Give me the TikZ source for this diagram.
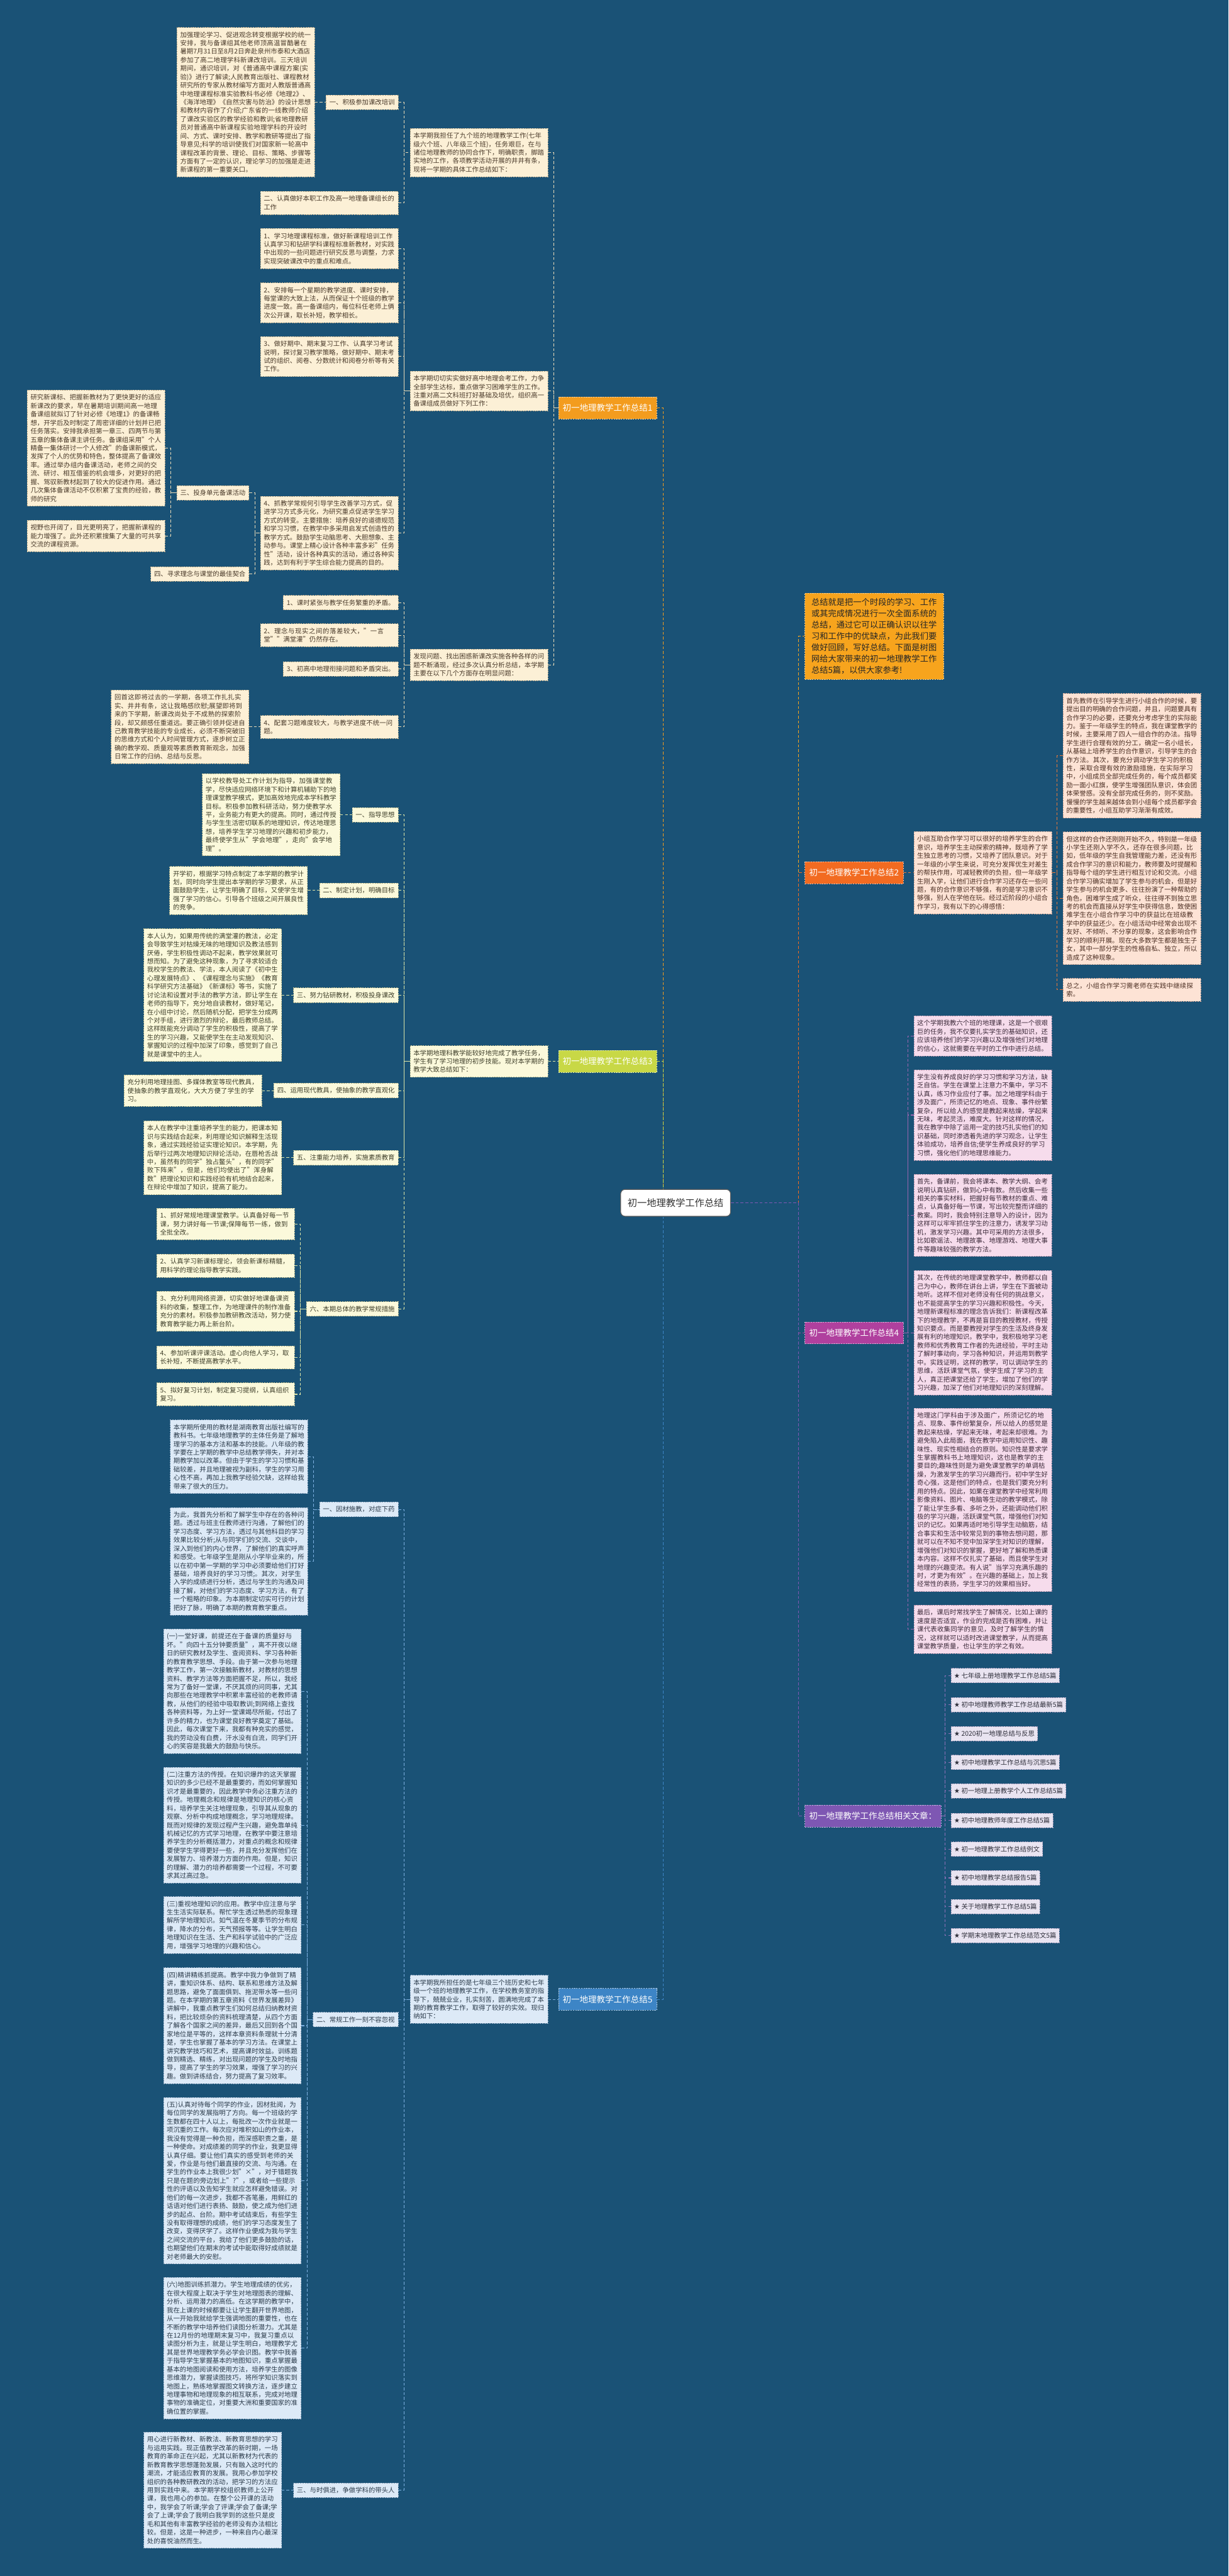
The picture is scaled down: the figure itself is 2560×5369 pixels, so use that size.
\documentclass[tikz,border=0pt]{standalone}
\usepackage{fontspec}
\setmainfont{Noto Sans CJK SC}
\newfontfamily\djv{DejaVu Sans}
\XeTeXlinebreaklocale "zh"
\XeTeXlinebreakskip = 0pt plus 1pt
\definecolor{bg}{HTML}{1A5276}
\definecolor{fA}{HTML}{FCF0D6}\definecolor{tA}{HTML}{4A3A2A}\definecolor{dA}{HTML}{B8A888}\definecolor{lA}{HTML}{EADBB8}
\definecolor{fB}{HTML}{FDE3D5}\definecolor{tB}{HTML}{4B2E22}\definecolor{dB}{HTML}{C9A090}\definecolor{lB}{HTML}{E8783A}
\definecolor{fC}{HTML}{FBF9DB}\definecolor{tC}{HTML}{3F3F2A}\definecolor{dC}{HTML}{B5B58A}\definecolor{lC}{HTML}{DDE6A8}
\definecolor{fD}{HTML}{F6DCEC}\definecolor{tD}{HTML}{3D2A3A}\definecolor{dD}{HTML}{B090A8}\definecolor{lD}{HTML}{9A64B0}
\definecolor{fE}{HTML}{DDEAF7}\definecolor{tE}{HTML}{2A3A4A}\definecolor{dE}{HTML}{90A8C0}\definecolor{lE}{HTML}{7DB0E0}
\definecolor{fF}{HTML}{E9E4F1}\definecolor{tF}{HTML}{2E2E3A}\definecolor{dF}{HTML}{A098B8}\definecolor{lF}{HTML}{8E70B8}
\definecolor{labA}{HTML}{F39C1E}\definecolor{labB}{HTML}{F26B21}\definecolor{labC}{HTML}{C8D846}
\definecolor{labD}{HTML}{B0409E}\definecolor{labE}{HTML}{3D85C6}\definecolor{labF}{HTML}{7E57B3}
\definecolor{intro}{HTML}{F7A41D}
\tikzset{
  base/.style={rectangle, inner xsep=7pt, inner ysep=8.8pt, font=\fontsize{13.6}{17.6}\selectfont, align=left, dash pattern=on 3pt off 2pt, line width=0.8pt},
  wide/.style={text width=273pt},
  bxA/.style={base, fill=fA, text=tA, draw=dA},
  bxB/.style={base, fill=fB, text=tB, draw=dB},
  bxC/.style={base, fill=fC, text=tC, draw=dC},
  bxD/.style={base, fill=fD, text=tD, draw=dD},
  bxE/.style={base, fill=fE, text=tE, draw=dE},
  bxF/.style={base, fill=fF, text=tF, draw=dF, inner xsep=6pt},
  lab/.style={rectangle, inner xsep=9pt, inner ysep=14.5pt, font=\fontsize{17.7}{20}\selectfont, text=white, fill=#1, draw=white!55!#1, dash pattern=on 3pt off 2pt, line width=0.8pt},
  cn/.style={draw=#1, dash pattern=on 6pt off 4pt, line width=1.4pt},
}
\begin{document}
\begin{tikzpicture}[x=1pt,y=-1pt]
\fill[bg] (0,0) rectangle (2560,5369);
\useasboundingbox (0,0) rectangle (2560,5369);

% root
\node[rectangle, rounded corners=9pt, fill=white, draw=black!65, line width=1.5pt, minimum width=229pt, minimum height=56pt, font=\fontsize{20}{22}\selectfont, text=black!80] (root) at (1408,2507) {初一地理教学工作总结};

% ================= Branch 1 =================
\node[lab=labA, anchor=east] (L1) at (1369,850) {初一地理教学工作总结1};
\node[bxA, wide, anchor=east] (A1) at (1142,318) {本学期我担任了九个班的地理教学工作(七年级六个班、八年级三个班)，任务艰巨，在与诸位地理教师的协同合作下，明确职责，脚踏实地的工作，各项教学活动开展的井井有条，现将一学期的具体工作总结如下：};
\node[bxA, anchor=east] (A11) at (830,213) {一、积极参加课改培训};
\node[bxA, wide, anchor=east] (A111) at (656,213) {加强理论学习、促进观念转变根据学校的统一安排，我与备课组其他老师顶高温冒酷暑在暑期7月31日至8月2日奔赴泉州市泰和大酒店参加了高二地理学科新课改培训。三天培训期间，通识培训，对《普通高中课程方案(实验)》进行了解读;人民教育出版社、课程教材研究所的专家从教材编写方面对人教版普通高中地理课程标准实验教科书必修《地理2》、《海洋地理》《自然灾害与防治》的设计思想和教材内容作了介绍;广东省的一线教师介绍了课改实验区的教学经验和教训;省地理教研员对普通高中新课程实验地理学科的开设时间、方式、课时安排、教学和教研等提出了指导意见;科学的培训使我们对国家新一轮高中课程改革的背景、理论、目标、策略、步骤等方面有了一定的认识，理论学习的加强是走进新课程的第一重要关口。};
\node[bxA, wide, anchor=east] (A12) at (830,423) {二、认真做好本职工作及高一地理备课组长的工作};

\node[bxA, wide, anchor=east] (A2) at (1142,815) {本学期切切实实做好高中地理会考工作，力争全部学生达标，重点做学习困难学生的工作。注重对高二文科班打好基础及培优，组织高一备课组成员做好下列工作：};
\node[bxA, wide, anchor=east] (A21) at (830,518) {1、学习地理课程标准，做好新课程培训工作认真学习和钻研学科课程标准新教材，对实践中出现的一些问题进行研究反思与调整，力求实现突破课改中的重点和难点。};
\node[bxA, wide, anchor=east] (A22) at (830,631) {2、安排每一个星期的教学进度、课时安排，每堂课的大致上法，从而保证十个班级的教学进度一致。高一备课组内，每位科任老师上俩次公开课，取长补短，教学相长。};
\node[bxA, wide, anchor=east] (A23) at (830,743) {3、做好期中、期末复习工作、认真学习考试说明，探讨复习教学策略，做好期中、期末考试的组织、阅卷、分数统计和阅卷分析等有关工作。};
\node[bxA, wide, anchor=east] (A24) at (830,1111) {4、抓教学常规何引导学生改善学习方式，促进学习方式多元化，为研究重点促进学生学习方式的转变。主要措施：培养良好的道德规范和学习习惯，在教学中多采用启发式创造性的教学方式。鼓励学生动脑思考、大胆想象、主动参与。课堂上精心设计各种丰富多彩"任务性"活动，设计各种真实的活动，通过各种实践，达到有利于学生综合能力提高的目的。};
\node[bxA, anchor=east] (A241) at (519,1027) {三、投身单元备课活动};
\node[bxA, wide, anchor=east] (A2411) at (344,934) {研究新课标、把握新教材为了更快更好的适应新课改的要求，早在暑期培训期间高一地理备课组就拟订了针对必修《地理1》的备课畅想，开学后及时制定了周密详细的计划并已把任务落实。安排我承担第一章三、四两节与第五章的集体备课主讲任务。备课组采用"个人精备一集体研讨一个人修改"的备课新模式，发挥了个人的优势和特色，整体提高了备课效率。通过举办组内备课活动，老师之间的交流、研讨、相互借鉴的机会增多，对更好的把握、驾驭新教材起到了较大的促进作用。通过几次集体备课活动不仅积累了宝贵的经验，教师的研究};
\node[bxA, wide, anchor=east] (A2412) at (344,1117) {视野也开阔了，目光更明亮了，把握新课程的能力增强了。此外还积累搜集了大量的可共享交流的课程资源。};
\node[bxA, anchor=east] (A242) at (519,1196) {四、寻求理念与课堂的最佳契合};

\node[bxA, wide, anchor=east] (A3) at (1142,1386) {发现问题、找出困惑新课改实施各种各样的问题不断涌现，经过多次认真分析总结，本学期主要在以下几个方面存在明显问题：};
\node[bxA, anchor=east] (A31) at (830,1256) {1、课时紧张与教学任务繁重的矛盾。};
\node[bxA, wide, anchor=east] (A32) at (830,1324) {2、理念与现实之间的落差较大，"一言堂""满堂灌"仍然存在。};
\node[bxA, anchor=east] (A33) at (830,1394) {3、初高中地理衔接问题和矛盾突出。};
\node[bxA, wide, anchor=east] (A34) at (830,1515) {4、配套习题难度较大，与教学进度不统一问题。};
\node[bxA, wide, anchor=east] (A341) at (519,1515) {回首这即将过去的一学期，各项工作扎扎实实、井井有条，这让我略感欣慰;展望即将到来的下学期，新课改尚处于不成熟的探索阶段，却又颇感任重道远。要正确引领并促进自己教育教学技能的专业成长，必须不断突破旧的思维方式和个人时间管理方式，逐步树立正确的教学观、质量观等素质教育新观念，加强日常工作的归纳、总结与反思。};

% ================= Branch 3 =================
\node[lab=labC, anchor=east] (L3) at (1369,2212) {初一地理教学工作总结3};
\node[bxC, wide, anchor=east] (C0) at (1142,2212) {本学期地理科教学能较好地完成了教学任务，学生有了学习地理的初步技能。现对本学期的教学大致总结如下：};
\node[bxC, anchor=east] (C1) at (830,1698) {一、指导思想};
\node[bxC, wide, anchor=east] (C11) at (709,1698) {以学校教导处工作计划为指导，加强课堂教学，尽快适应网络环境下和计算机辅助下的地理课堂教学模式，更加高效地完成本学科教学目标。积极参加教科研活动，努力使教学水平，业务能力有更大的提高。同时，通过传授与学生生活密切联系的地理知识，传达地理思想，培养学生学习地理的兴趣和初步能力，最终使学生从"学会地理"，走向"会学地理"。};
\node[bxC, anchor=east] (C2) at (830,1856) {二、制定计划，明确目标};
\node[bxC, wide, anchor=east] (C21) at (641,1856) {开学初，根据学习特点制定了本学期的教学计划，同时向学生提出本学期的学习要求，从正面鼓励学生，让学生明确了目标，又使学生增强了学习的信心。引导各个班级之间开展良性的竞争。};
\node[bxC, anchor=east] (C3) at (830,2074) {三、努力钻研教材，积极投身课改};
\node[bxC, wide, anchor=east] (C31) at (587,2074) {本人认为，如果用传统的满堂灌的教法，必定会导致学生对枯燥无味的地理知识及教法感到厌倦，学生积极性调动不起来，教学效果就可想而知。为了避免这种现象，为了寻求较适合我校学生的教法、学法，本人阅读了《初中生心理发展特点》、《课程理念与实施》《教育科学研究方法基础》《新课标》等书，实施了讨论法和设置对手法的教学方法，即让学生在老师的指导下，充分地自读教材，做好笔记，在小组中讨论，然后随机分配，把学生分成两个对手组，进行激烈的辩论，最后教师总结。这样既能充分调动了学生的积极性，提高了学生的学习兴趣，又能使学生在主动发现知识、掌握知识的过程中加深了印象，感觉到了自己就是课堂中的主人。};
\node[bxC, anchor=east] (C4) at (830,2273) {四、运用现代教具，使抽象的教学直观化};
\node[bxC, wide, anchor=east] (C41) at (546,2273) {充分利用地理挂图、多媒体教室等现代教具，使抽象的教学直观化，大大方便了学生的学习。};
\node[bxC, anchor=east] (C5) at (830,2413) {五、注重能力培养，实施素质教育};
\node[bxC, wide, anchor=east] (C51) at (587,2413) {本人在教学中注重培养学生的能力，把课本知识与实践结合起来，利用理论知识解释生活现象，通过实践经验证实理论知识。本学期，先后举行过两次地理知识辩论活动，在唇枪舌战中，虽然有的同学"独占鳌头"，有的同学"败下阵来"，但是，他们均使出了"浑身解数"把理论知识和实践经验有机地结合起来，在辩论中增加了知识，提高了能力。};
\node[bxC, anchor=east] (C6) at (830,2728) {六、本期总体的教学常规措施};
\node[bxC, wide, anchor=east] (C61) at (614,2551) {1、抓好常规地理课堂教学。认真备好每一节课，努力讲好每一节课;保障每节一练，做到全批全改。};
\node[bxC, wide, anchor=east] (C62) at (614,2638) {2、认真学习新课标理论，领会新课标精髓，用科学的理论指导教学实践。};
\node[bxC, wide, anchor=east] (C63) at (614,2733) {3、充分利用网络资源，切实做好地课备课资料的收集，整理工作，为地理课件的制作准备充分的素材。积极参加教研教改活动，努力使教育教学能力再上新台阶。};
\node[bxC, wide, anchor=east] (C64) at (614,2829) {4、参加听课评课活动。虚心向他人学习，取长补短，不断提高教学水平。};
\node[bxC, wide, anchor=east] (C65) at (614,2906) {5、拟好复习计划，制定复习提纲，认真组织复习。};

% ================= Branch 5 =================
\node[lab=labE, anchor=east] (L5) at (1369,4167) {初一地理教学工作总结5};
\node[bxE, wide, anchor=east] (E0) at (1142,4167) {本学期我所担任的是七年级三个班历史和七年级一个班的地理教学工作，在学校教务室的指导下，兢兢业业，扎实刻苦，圆满地完成了本期的教育教学工作，取得了较好的实效。现归纳如下：};
\node[bxE, anchor=east] (E1) at (830,3146) {一、因材施教，对症下药};
\node[bxE, wide, anchor=east] (E11) at (642,3036) {本学期所使用的教材是湖南教育出版社编写的教科书。七年级地理教学的主体任务是了解地理学习的基本方法和基本的技能。八年级的教学要在上学期的教学中总结教学得失，并对本期教学加以改革。但由于学生的学习习惯和基础较差，并且地理被视为副科，学生的学习用心性不高，再加上我教学经验欠缺，这样给我带来了很大的压力。};
\node[bxE, wide, anchor=east] (E12) at (642,3254) {为此，我首先分析和了解学生中存在的各种问题。透过与班主任教师进行沟通，了解他们的学习态度、学习方法，透过与其他科目的学习效果比较分析;从与同学们的交流、交谈中，深入到他们的内心世界，了解他们的真实呼声和感受。七年级学生是刚从小学毕业来的，所以在初中第一学期的学习中必须要给他们打好基础，培养良好的学习习惯;。其次，对学生入学的成绩进行分析，透过与学生的沟通及间接了解，对他们的学习态度、学习方法，有了一个粗略的印象。为本期制定切实可行的计划把好了脉，明确了本期的教育教学重点。};
\node[bxE, anchor=east] (E2) at (830,4209) {二、常规工作一刻不容忽视};
\node[bxE, wide, anchor=east] (E21) at (628,3525) {(一)一堂好课，前提还在于备课的质量好与坏。"向四十五分钟要质量"，离不开夜以继日的研究教材及学生、查阅资料、学习各种新的教育教学思想、手段。由于第一次参与地理教学工作，第一次接触新教材，对教材的思想资料、教学方法等方面把握不足，所以，我经常为了备好一堂课，不厌其烦的问同事，尤其向那些在地理教学中积累丰富经验的老教师请教，从他们的经验中吸取教训;到网络上查找各种资料等，为上好一堂课竭尽所能，付出了许多的精力，也为课堂良好教学奠定了基础。因此，每次课堂下来，我都有种充实的感觉，我的劳动没有白费，汗水没有白流，同学们开心的笑容是我最大的鼓励与快乐。};
\node[bxE, wide, anchor=east] (E22) at (628,3804) {(二)注重方法的传授。在知识爆炸的这天掌握知识的多少已经不是最重要的，而如何掌握知识才是最重要的，因此教学中务必注重方法的传授。地理概念和规律是地理知识的核心资料，培养学生关注地理现象，引导其从现象的观察、分析中构成地理概念，学习地理规律。既而对规律的发现过程产生兴趣，避免靠单纯机械记忆的方式学习地理，在教学中要注意培养学生的分析概括潜力，对重点的概念和规律要使学生学得更好一些，并且充分发挥他们在发展智力、培养潜力方面的作用。但是，知识的理解、潜力的培养都需要一个过程，不可要求其过高过急。};
\node[bxE, wide, anchor=east] (E23) at (628,4012) {(三)重视地理知识的应用。教学中应注意与学生生活实际联系。帮忙学生透过熟悉的现象理解所学地理知识。如气温在冬夏季节的分布规律，降水的分布，天气预报等等。让学生明白地理知识在生活、生产和科学试验中的广泛应用，增强学习地理的兴趣和信心。};
\node[bxE, wide, anchor=east] (E24) at (628,4222) {(四)精讲精练抓提高。教学中我力争做到了精讲，重知识体系、结构、联系和思维方法及解题思路，避免了面面俱到、拖泥带水等一些问题。在本学期的第五章资料《世界发展差异》讲解中，我重点教学生们如何总结归纳教材资料，把比较烦杂的资料梳理清楚，从四个方面了解各个国家之间的差异，最后又回到各个国家地位是平等的，这样本章资料条理就十分清楚，学生也掌握了基本的学习方法。在课堂上讲究教学技巧和艺术，提高课时效益。训练题做到精选、精练，对出现问题的学生及时地指导，提高了学生的学习效果，增强了学习的兴趣。做到讲练结合，努力提高了复习效率。};
\node[bxE, wide, anchor=east] (E25) at (628,4545) {(五)认真对待每个同学的作业，因材批阅，为每位同学的发展指明了方向。每一个班级的学生数都在四十人以上，每批改一次作业就是一项沉重的工作。每次应对堆积如山的作业本，我没有觉得是一种负担，而深感职责之重，是一种使命。对成绩差的同学的作业，我更显得认真仔细。要让他们真实的感受到老师的关爱，作业是与他们最直接的交流、与沟通。在学生的作业本上我很少划"×"，对于错题我只是在题的旁边划上"?"，或者给一些提示性的评语以及告知学生就应怎样避免错误。对他们的每一次进步，我都不吝笔墨，用鲜红的话语对他们进行表扬、鼓励，使之成为他们进步的起点、台阶。期中考试结束后，有些学生没有取得理想的成绩，他们的学习态度发生了改变，变得厌学了。这样作业便成为我与学生之间交流的平台，我给了他们更多鼓励的话，也期望他们在期末的考试中能取得好成绩就是对老师最大的安慰。};
\node[bxE, wide, anchor=east] (E26) at (628,4894) {(六)地图训练抓潜力。学生地理成绩的优劣，在很大程度上取决于学生对地理图表的理解、分析、运用潜力的高低。在这学期的教学中，我在上课的时候都要让让学生翻开世界地图，从一开始我就给学生强调地图的重要性，也在不断的教学中培养他们读图分析潜力。尤其是在12月份的地理期末复习中，我复习重点以读图分析为主，就是让学生明白，地理教学尤其是世界地理教学务必学会识图。教学中我善于指导学生掌握基本的地图知识，重点掌握最基本的地图阅读和使用方法，培养学生的图像思维潜力，掌握读图技巧，将所学知识落实到地图上，熟练地掌握图文转换方法，逐步建立地理事物和地理现象的相互联系，完成对地理事物的准确定位，对重要大洲和重要国家的准确位置的掌握。};
\node[bxE, anchor=east] (E3) at (830,5190) {三、与时俱进，争做学科的带头人};
\node[bxE, wide, anchor=east] (E31) at (587,5190) {用心进行新教材、新教法、新教育思想的学习与运用实践。现正值教学改革的新时期，一场教育的革命正在兴起，尤其以新教材为代表的新教育教学思想蓬勃发展，只有融入这时代的潮流，才能适应教育的发展。我用心参加学校组织的各种教研教改的活动，把学习的方法应用到实践中来。本学期学校组织教师上公开课，我也用心的参加。在整个公开课的活动中，我学会了听课;学会了评课;学会了备课;学会了上课;学会了我明白我学到的这些只是皮毛和其他有丰富教学经验的老师没有办法相比较。但是，这是一种进步，一种来自内心最深处的喜悦油然而生。};

% ================= Right side =================
\node[rectangle, anchor=west, fill=intro, draw=white!45!intro, dash pattern=on 3pt off 2pt, line width=0.8pt, text=black!85, text width=262pt, align=left, inner xsep=13.5pt, inner ysep=11.3pt, font=\fontsize{17.4}{23.5}\selectfont] (I0) at (1677,1326) {总结就是把一个时段的学习、工作或其完成情况进行一次全面系统的总结，通过它可以正确认识以往学习和工作中的优缺点，为此我们要做好回顾，写好总结。下面是树图网给大家带来的初一地理教学工作总结5篇，以供大家参考!};

\node[lab=labB, anchor=west] (L2) at (1677,1819) {初一地理教学工作总结2};
\node[bxB, wide, anchor=west] (B0) at (1904,1819) {小组互助合作学习可以很好的培养学生的合作意识，培养学生主动探索的精神，既培养了学生独立思考的习惯，又培养了团队意识。对于一年级的小学生来说，可充分发挥优生对差生的帮扶作用，可减轻教师的负担，但一年级学生刚入学，让他们进行合作学习还存在一些问题，有的合作意识不够强，有的是学习意识不够强，别人在学他在玩。经过近阶段的小组合作学习，我有以下的心得感悟：};
\node[bxB, wide, anchor=west] (B1) at (2215,1575) {首先教师在引导学生进行小组合作的时候，要提出目的明确的合作问题，并且，问题要具有合作学习的必要，还要充分考虑学生的实际能力。鉴于一年级学生的特点，我在课堂教学的时候，主要采用了四人一组合作的办法。指导学生进行合理有效的分工，确定一名小组长，从基础上培养学生的合作意识，引导学生的合作方法。其次，要充分调动学生学习的积极性，采取合理有效的激励措施，在实际学习中，小组成员全部完成任务的，每个成员都奖励一面小红旗，使学生增强团队意识，体会团体荣誉感。没有全部完成任务的，则不奖励。慢慢的学生越来越体会到小组每个成员都学会的重要性，小组互助学习渐渐有成效。};
\node[bxB, wide, anchor=west] (B2) at (2215,1872) {但这样的合作还刚刚开始不久，特别是一年级小学生还刚入学不久，还存在很多问题，比如，低年级的学生自我管理能力差，还没有形成合作学习的意识和能力，教师要及时提醒和指导每个组的学生进行相互讨论和交流。小组合作学习确实增加了学生参与的机会，但是好学生参与的机会更多、往往扮演了一种帮助的角色，困难学生成了听众，往往得不到独立思考的机会而直接从好学生中获得信息，致使困难学生在小组合作学习中的获益比在班级教学中的获益还少。在小组活动中经常会出现不友好、不倾听、不分享的现象，这会影响合作学习的顺利开展。现在大多数学生都是独生子女，其中一部分学生的性格自私、独立，所以造成了这种现象。};
\node[bxB, wide, anchor=west] (B3) at (2215,2063) {总之，小组合作学习需老师在实践中继续探索。};

\node[lab=labD, anchor=west] (L4) at (1677,2778) {初一地理教学工作总结4};
\node[bxD, wide, anchor=west] (D1) at (1904,2159) {这个学期我教六个班的地理课，这是一个很艰巨的任务，我不仅要扎实学生的基础知识，还应该培养他们的学习兴趣以及增强他们对地理的信心，这就需要在平时的工作中进行总结。};
\node[bxD, wide, anchor=west] (D2) at (1904,2324) {学生没有养成良好的学习习惯和学习方法，缺乏自信。学生在课堂上注意力不集中，学习不认真，练习作业应付了事。加之地理学科由于涉及面广，所须记忆的地点、现象、事件纷繁复杂，所以给人的感觉是教起来枯燥，学起来无味，考起灵活，难度大。针对这样的情况，我在教学中除了运用一定的技巧扎实他们的知识基础，同时渗透着先进的学习观念，让学生体验成功，培养自信;使学生养成良好的学习习惯，强化他们的地理思维能力。};
\node[bxD, wide, anchor=west] (D3) at (1904,2533) {首先，备课前，我会将课本、教学大纲、会考说明认真钻研，做到心中有数。然后收集一些相关的事实材料，把握好每节教材的重点、难点，认真备好每一节课，写出较完整而详细的教案。同时，我会特别注意导入的设计，因为这样可以牢牢抓住学生的注意力，诱发学习动机，激发学习兴趣。其中可采用的方法很多，比如歌谣法、地理故事、地理游戏、地理大事件等趣味较强的教学方法。};
\node[bxD, wide, anchor=west] (D4) at (1904,2778) {其次，在传统的地理课堂教学中，教师都以自己为中心，教师在讲台上讲，学生在下面被动地听。这样不但对老师没有任何的挑战意义，也不能提高学生的学习兴趣和积极性。今天，地理新课程标准的理念告诉我们：新课程改革下的地理教学，不再是盲目的教授教材，传授知识要点。而是要教授对学生的生活及终身发展有利的地理知识。教学中，我积极地学习老教师和优秀教育工作者的先进经验，平时主动了解时事动向，学习各种知识，并运用到教学中。实践证明，这样的教学，可以调动学生的思维，活跃课堂气氛，使学生成了学习的主人，真正把课堂还给了学生，增加了他们的学习兴趣，加深了他们对地理知识的深刻理解。};
\node[bxD, wide, anchor=west] (D5) at (1904,3126) {地理这门学科由于涉及面广，所须记忆的地点、现象、事件纷繁复杂，所以给人的感觉是教起来枯燥，学起来无味，考起来却很难。为避免陷入此局面，我在教学中运用知识性、趣味性、现实性相结合的原则。知识性是要求学生掌握教科书上地理知识，这也是教学的主要目的;趣味性则是为避免课堂教学的单调枯燥，为激发学生的学习兴趣而行。初中学生好奇心强，这是他们的特点，也是我们要充分利用的特点。因此，如果在课堂教学中经常利用影像资料、图片、电脑等生动的教学模式，除了能让学生多看、多听之外，还能调动他们积极的学习兴趣，活跃课堂气氛，增强他们对知识的记忆。如果再适时地引导学生动脑筋，结合事实和生活中较常见到的事物去想问题，那就可以在不知不觉中加深学生对知识的理解，增强他们对知识的掌握，更好地了解和熟悉课本内容。这样不仅扎实了基础，而且使学生对地理的兴趣变浓。有人说"当学习充满乐趣的时，才更为有效"。在兴趣的基础上，加上我经常性的表扬，学生学习的效果相当好。};
\node[bxD, wide, anchor=west] (D6) at (1904,3396) {最后，课后时常找学生了解情况，比如上课的速度是否适宜，作业的完成是否有困难，并让课代表收集同学的意见，及时了解学生的情况，这样就可以适时改进课堂教学，从而提高课堂教学质量，也让学生的学之有效。};

\node[lab=labF, anchor=west] (L6) at (1677,3785) {初一地理教学工作总结相关文章：};
\node[bxF, anchor=west] (F1) at (1982,3492) {{\djv ★} 七年级上册地理教学工作总结5篇};
\node[bxF, anchor=west] (F2) at (1982,3553) {{\djv ★} 初中地理教师教学工作总结最新5篇};
\node[bxF, anchor=west] (F3) at (1982,3613) {{\djv ★} 2020初一地理总结与反思};
\node[bxF, anchor=west] (F4) at (1982,3673) {{\djv ★} 初中地理教学工作总结与沉思5篇};
\node[bxF, anchor=west] (F5) at (1982,3733) {{\djv ★} 初一地理上册教学个人工作总结5篇};
\node[bxF, anchor=west] (F6) at (1982,3794) {{\djv ★} 初中地理教师年度工作总结5篇};
\node[bxF, anchor=west] (F7) at (1982,3854) {{\djv ★} 初一地理教学工作总结例文};
\node[bxF, anchor=west] (F8) at (1982,3914) {{\djv ★} 初中地理教学总结报告5篇};
\node[bxF, anchor=west] (F9) at (1982,3974) {{\djv ★} 关于地理教学工作总结5篇};
\node[bxF, anchor=west] (F10) at (1982,4034) {{\djv ★} 学期末地理教学工作总结范文5篇};

% ================= Connectors =================
\coordinate (rt) at (1664,2507);
\draw[cn=intro] (root.east) -- (rt) |- (I0.west);
\draw[cn=labB] (root.east) -- (rt) |- (L2.west);
\draw[cn=labD] (root.east) -- (rt) |- (L4.west);
\draw[cn=labF] (root.east) -- (rt) |- (L6.west);
\draw[cn=labA] (L1.east) -| ([xshift=-26pt]root.north);
\draw[cn=labC] (L3.east) -| ([xshift=-26pt]root.north);
\draw[cn=labE] (L5.east) -| ([xshift=-26pt]root.south);

% branch 1
\foreach \c in {A1,A2,A3} \draw[cn=lA] (\c.east) -- ++(12,0) |- (L1.west);
\foreach \c in {A11,A12} \draw[cn=lA] (\c.east) -- ++(12,0) |- (A1.west);
\draw[cn=lA] (A111.east) -- (A11.west);
\foreach \c in {A21,A22,A23,A24} \draw[cn=lA] (\c.east) -- ++(12,0) |- (A2.west);
\foreach \c in {A241,A242} \draw[cn=lA] (\c.east) -- ++(12,0) |- (A24.west);
\foreach \c in {A2411,A2412} \draw[cn=lA] (\c.east) -- ++(12,0) |- (A241.west);
\foreach \c in {A31,A32,A33,A34} \draw[cn=lA] (\c.east) -- ++(12,0) |- (A3.west);
\draw[cn=lA] (A341.east) -- (A34.west);

% branch 3
\draw[cn=lC] (C0.east) -- (L3.west);
\foreach \c in {C1,C2,C3,C4,C5,C6} \draw[cn=lC] (\c.east) -- ++(12,0) |- (C0.west);
\draw[cn=lC] (C11.east) -- (C1.west);
\draw[cn=lC] (C21.east) -- (C2.west);
\draw[cn=lC] (C31.east) -- (C3.west);
\draw[cn=lC] (C41.east) -- (C4.west);
\draw[cn=lC] (C51.east) -- (C5.west);
\foreach \c in {C61,C62,C63,C64,C65} \draw[cn=lC] (\c.east) -- ++(12,0) |- (C6.west);

% branch 5
\draw[cn=lE] (E0.east) -- (L5.west);
\foreach \c in {E1,E2,E3} \draw[cn=lE] (\c.east) -- ++(12,0) |- (E0.west);
\foreach \c in {E11,E12} \draw[cn=lE] (\c.east) -- ++(12,0) |- (E1.west);
\foreach \c in {E21,E22,E23,E24,E25,E26} \draw[cn=lE] (\c.east) -- ++(12,0) |- (E2.west);
\draw[cn=lE] (E31.east) -- (E3.west);

% branch 2
\draw[cn=lB] (L2.east) -- (B0.west);
\foreach \c in {B1,B2,B3} \draw[cn=lB] (\c.west) -- ++(-12,0) |- (B0.east);

% branch 4
\foreach \c in {D1,D2,D3,D4,D5,D6} \draw[cn=lD] (\c.west) -- ++(-12,0) |- (L4.east);

% related
\foreach \c in {F1,F2,F3,F4,F5,F6,F7,F8,F9,F10} \draw[cn=lF] (\c.west) -- ++(-12,0) |- (L6.east);
\end{tikzpicture}
\end{document}
